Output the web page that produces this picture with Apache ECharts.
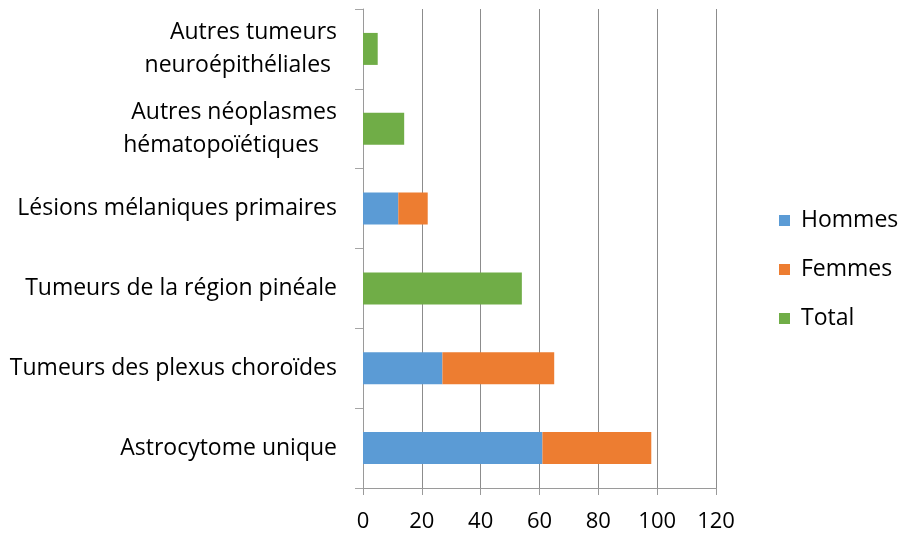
<!DOCTYPE html>
<html>
<head>
<meta charset="utf-8">
<script src="https://cdn.jsdelivr.net/npm/echarts@6/dist/echarts.min.js"></script>
<style>
  html, body { margin: 0; padding: 0; background: #fff; }
  #chart { width: 901px; height: 539px; }
</style>
</head>
<body>
<div id="chart"></div>
<script>
// catégories, du bas vers le haut
const categories = [
  'Astrocytome unique',
  'Tumeurs des plexus choroïdes',
  'Tumeurs de la région pinéale',
  'Lésions mélaniques primaires',
  'Autres néoplasmes\nhématopoïétiques   ',
  'Autres tumeurs\nneuroépithéliales '
];
const hommes = [61, 27, '-', 12, '-', '-'];
const femmes = [37, 38, '-', 10, '-', '-'];
const total = ['-', '-', 54, '-', 14, 5];
const xTicks = [0, 20, 40, 60, 80, 100, 120];

const font = '"Open Sans", "Noto Sans", sans-serif';
const chart = echarts.init(document.getElementById('chart'));

const bar = (name, data, color) => ({
  name: name,
  type: 'bar',
  stack: 'all',
  data: data,
  barWidth: 32,
  itemStyle: { color: color },
  emphasis: { disabled: true }
});

chart.setOption({
  animation: false,
  textStyle: { fontFamily: font },
  grid: { left: 363, right: 185, top: 9, bottom: 51 },
  legend: {
    orient: 'vertical',
    left: 779,
    top: 209,
    padding: 0,
    itemWidth: 11,
    itemHeight: 11,
    itemGap: 26,
    icon: 'rect',
    textStyle: { fontFamily: font, fontSize: 23, color: '#000', lineHeight: 23, padding: [0, 0, 0, 6] },
    data: ['Hommes', 'Femmes', 'Total']
  },
  xAxis: {
    type: 'value',
    min: xTicks[0],
    max: xTicks[xTicks.length - 1],
    interval: 20,
    axisLine: { show: true, lineStyle: { color: '#9a9a9a', width: 1 } },
    axisTick: { show: true, length: 7, lineStyle: { color: '#9a9a9a' } },
    axisLabel: { fontSize: 22, color: '#000', margin: 23, fontFamily: font },
    splitLine: { show: true, lineStyle: { color: '#8c8c8c', width: 1 } }
  },
  yAxis: {
    type: 'category',
    data: categories,
    axisLine: { show: true, lineStyle: { color: '#9a9a9a', width: 1 } },
    axisTick: { show: true, length: 8, lineStyle: { color: '#a6a6a6' } },
    axisLabel: {
      fontSize: 23,
      color: '#000',
      margin: 26,
      lineHeight: 33,
      align: 'right',
      fontFamily: font
    }
  },
  series: [
    bar('Hommes', hommes, '#5B9BD5'),
    bar('Femmes', femmes, '#ED7D31'),
    bar('Total', total, '#70AD47')
  ]
});
</script>
</body>
</html>
